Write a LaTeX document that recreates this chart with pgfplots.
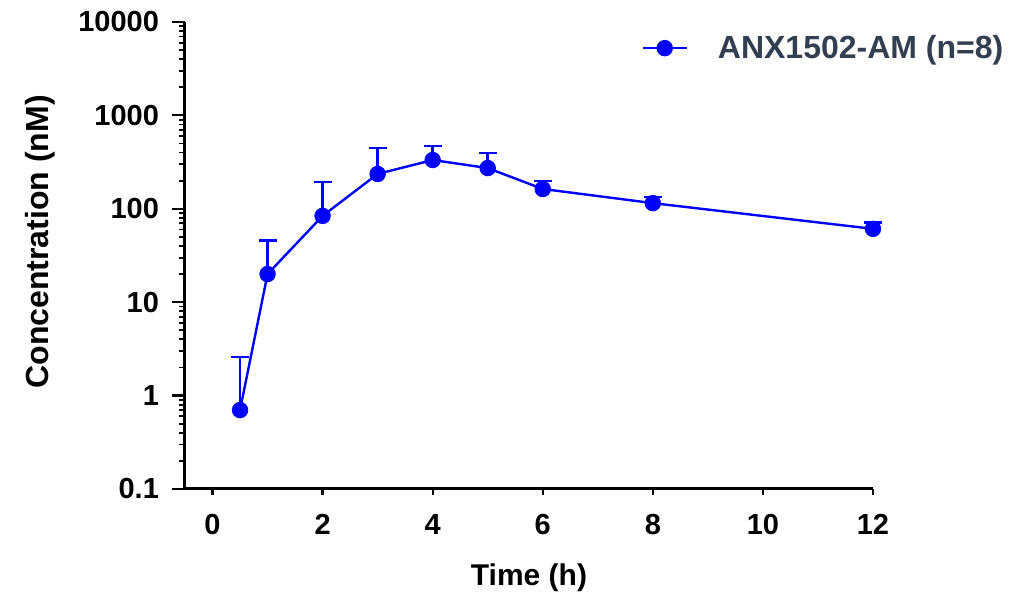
\documentclass[border=0pt]{standalone}
\usepackage{fontspec}
\setmainfont{Liberation Sans}
\usepackage{pgfplots}
\pgfplotsset{compat=1.18}
\definecolor{ptblue}{RGB}{0,0,255}
\definecolor{legendgray}{RGB}{51,63,80}

\begin{document}
\begin{tikzpicture}
% page = 1025x594 px at 0.5pt per px
\path[use as bounding box] (-92.5pt,-52.5pt) rectangle (420pt,244.5pt);
\begin{axis}[
  at={(0,0)}, anchor=south west,
  scale only axis, width=344pt, height=233.5pt,
  ymode=log, ymin=0.1, ymax=10000,
  xmin=-0.5, xmax=12,
  axis lines*=left,
  axis line style={line width=1.5pt, black},
  tick align=outside,
  major tick length=6.5pt, minor tick length=3pt,
  tick style={line width=1.1pt, black},
  minor tick style={line width=0.9pt},
  xtick style={/pgfplots/major tick length=3pt},
  xtick={0,2,4,6,8,10,12},
  xticklabels={0,2,4,6,8,10,12},
  ytick={0.1,1,10,100,1000,10000},
  yticklabels={0.1,1,10,100,1000,10000},
  minor ytick={0.2,0.3,0.4,0.5,0.6,0.7,0.8,0.9,
    2,3,4,5,6,7,8,9,20,30,40,50,60,70,80,90,
    200,300,400,500,600,700,800,900,2000,3000,4000,5000,6000,7000,8000,9000},
  tick label style={font=\fontsize{14.5}{17}\selectfont\bfseries, black},
  yticklabel style={xshift=-3pt},
  xticklabel style={yshift=-2.5pt},
  xlabel={Time (h)},
  ylabel={Concentration (nM)},
  xlabel style={font=\fontsize{15}{18}\selectfont\bfseries, black,
    at={(axis description cs:0.5,0)}, anchor=center, yshift=-44.5pt},
  ylabel style={font=\fontsize{16}{19}\selectfont\bfseries, black,
    at={(axis description cs:0,0.529)}, anchor=center, yshift=72.5pt},
  legend style={draw=none, fill=none, at={(axis description cs:0.663,0.944)},
    anchor=west, font=\fontsize{16}{19}\selectfont\bfseries,
    text=legendgray, inner sep=0pt, column sep=0pt},
  legend cell align=left,
  legend image code/.code={%
    \draw[mark repeat=2, mark phase=2] plot coordinates {(0pt,0pt) (11pt,0pt) (22pt,0pt)};},
  clip=false,
]
\addplot[ptblue, line width=1.2pt, mark=*, mark size=3.5pt,
  mark options={fill=ptblue, draw=ptblue},
  error bars/.cd, y dir=plus, y explicit,
  error bar style={line width=1.4pt, ptblue},
  error mark options={rotate=90, mark size=4.5pt, line width=1.4pt, ptblue}]
  coordinates {
  (0.5,0.70) +- (0,1.89)
  (1,20)     +- (0,26)
  (2,84)     +- (0,110)
  (3,236)    +- (0,212)
  (4,333)    +- (0,137)
  (5,273)    +- (0,123)
  (6,163)    +- (0,35)
  (8,115)    +- (0,19)
  (12,61)    +- (0,11)
};
\addlegendentry{\hspace{13pt}ANX1502-AM (n=8)}
\end{axis}
\end{tikzpicture}
\end{document}
